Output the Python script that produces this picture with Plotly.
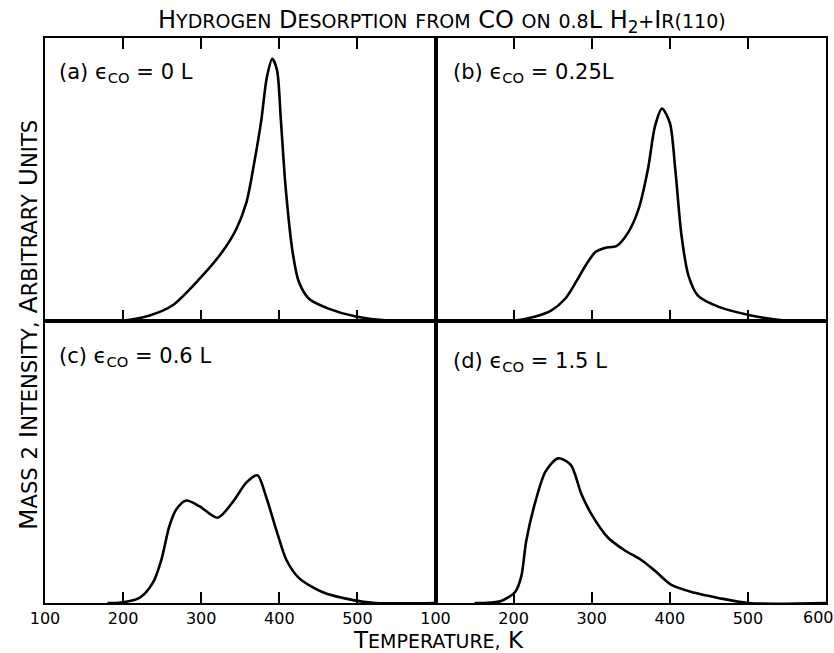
import plotly.graph_objects as go
from plotly.subplots import make_subplots

# ---------------- data ----------------
temp_a = [150, 200, 234, 263, 298, 327, 345, 358, 368, 377, 384, 391, 397, 402, 408, 417, 425, 438, 463, 498, 540, 600]
int_a = [0.0, 0.0, 0.018, 0.053, 0.148, 0.243, 0.324, 0.419, 0.56, 0.71, 0.86, 0.926, 0.887, 0.71, 0.475, 0.243, 0.137, 0.077, 0.042, 0.014, 0.0, 0.0]

temp_b = [150, 202, 228, 248, 266, 280, 292, 305, 317, 332, 347, 360, 372, 381, 390, 400, 407, 415, 424, 436, 462, 504, 547, 600]
int_b = [0.0, 0.0, 0.014, 0.035, 0.077, 0.137, 0.194, 0.243, 0.257, 0.264, 0.313, 0.394, 0.535, 0.687, 0.75, 0.70, 0.535, 0.30, 0.158, 0.088, 0.049, 0.018, 0.0, 0.0]

temp_c = [180, 192, 221, 238, 249, 259, 268, 281, 298, 321, 340, 358, 372, 383, 396, 409, 425, 455, 493, 523, 600]
int_c = [0.0, 0.0, 0.018, 0.071, 0.153, 0.27, 0.331, 0.363, 0.342, 0.302, 0.356, 0.427, 0.452, 0.377, 0.26, 0.153, 0.089, 0.039, 0.011, 0.0, 0.0]

temp_d = [150, 164, 184, 202, 210, 216, 228, 241, 257, 273, 287, 300, 321, 343, 363, 381, 402, 432, 462, 500, 600]
int_d = [0.0, 0.0, 0.007, 0.039, 0.096, 0.217, 0.36, 0.466, 0.512, 0.49, 0.384, 0.313, 0.231, 0.185, 0.153, 0.114, 0.064, 0.036, 0.018, 0.0, 0.0]

tick_vals = [100, 200, 300, 400, 500, 600]
tick_text_left = ["100", "200", "300", "400", "500", ""]
tick_text_right = ["100", "200", "300", "400", "500", ""]
last_tick_label = "600"

panel_labels = ["(a) ϵ<sub>CO</sub> = 0 L", "(b) ϵ<sub>CO</sub> = 0.25L",
                "(c) ϵ<sub>CO</sub> = 0.6 L", "(d) ϵ<sub>CO</sub> = 1.5 L"]

title_parts = ["Hydrogen Desorption from CO on 0.8L H", "2", "+Ir(110)"]
xlabel_text = "Temperature, K"
ylabel_text = "Mass 2 Intensity, Arbitrary Units"


def small_caps(text, small):
    """Uppercase letters stay full size, everything else is drawn as smaller capitals."""
    out, buf = [], []
    for ch in text:
        if ch.isupper() or ch == " ":
            if buf:
                out.append('<span style="font-size:%dpx">%s</span>' % (small, "".join(buf).upper()))
                buf = []
            out.append(ch)
        else:
            buf.append(ch)
    if buf:
        out.append('<span style="font-size:%dpx">%s</span>' % (small, "".join(buf).upper()))
    return "".join(out)


# ---------------- figure ----------------
W, H = 834, 653
ML, MR, MT, MB = 45, 6, 38, 50
fig = make_subplots(rows=2, cols=2, horizontal_spacing=0, vertical_spacing=0)

series = [(temp_a, int_a, 1, 1), (temp_b, int_b, 1, 2), (temp_c, int_c, 2, 1), (temp_d, int_d, 2, 2)]
for t, v, r, c in series:
    fig.add_trace(go.Scatter(x=t, y=v, mode="lines",
                             line=dict(color="black", width=2.6, shape="spline", smoothing=0.8),
                             showlegend=False, hoverinfo="skip"), row=r, col=c)

FONT = "DejaVu Sans"
for r in (1, 2):
    for c in (1, 2):
        fig.update_xaxes(row=r, col=c, range=[100, 600], showgrid=False, zeroline=False,
                         showline=True, linecolor="black", linewidth=1.6,
                         mirror="ticks" if r == 1 else True,
                         ticks="inside", ticklen=11, tickwidth=1.5, tickcolor="black",
                         tickvals=tick_vals,
                         ticktext=(tick_text_left if c == 1 else tick_text_right),
                         showticklabels=(r == 2),
                         tickfont=dict(family=FONT, size=16, color="black"))
        fig.update_yaxes(row=r, col=c, range=[0, 1], showgrid=False, zeroline=False,
                         showline=True, linecolor="black", linewidth=1.6, mirror=True,
                         ticks="", showticklabels=False)


def px2paper(px, py):
    return (px - ML) / (W - ML - MR), (H - MB - py) / (H - MT - MB)


annos = []
label_pos = [(57, 73), (452, 73), (57, 357), (452, 362)]
for txt, (px, py) in zip(panel_labels, label_pos):
    x, y = px2paper(px, py)
    annos.append(dict(text=txt, x=x, y=y, xref="paper", yref="paper", xanchor="left",
                      yanchor="middle", showarrow=False,
                      font=dict(family=FONT, size=21, color="black")))

# right-most tick label, kept inside the page
x, y = px2paper(820, 617)
annos.append(dict(text=last_tick_label, x=x, y=y, xref="paper", yref="paper", xanchor="center",
                  yanchor="middle", showarrow=False,
                  font=dict(family=FONT, size=16, color="black")))

title_html = (small_caps(title_parts[0], 19) + "<sub>" + title_parts[1] + "</sub>"
              + small_caps(title_parts[2], 19))
x, y = px2paper(443, 21)
annos.append(dict(text=title_html, x=x, y=y, xref="paper", yref="paper", xanchor="center",
                  yanchor="middle", showarrow=False,
                  font=dict(family=FONT, size=24, color="black")))
x, y = px2paper(440, 640)
annos.append(dict(text=small_caps(xlabel_text, 19), x=x, y=y, xref="paper", yref="paper",
                  xanchor="center", yanchor="middle", showarrow=False,
                  font=dict(family=FONT, size=23, color="black")))
x, y = px2paper(28, 325)
annos.append(dict(text=small_caps(ylabel_text, 21), x=x, y=y, xref="paper", yref="paper",
                  xanchor="center", yanchor="middle", showarrow=False, textangle=-90,
                  font=dict(family=FONT, size=25, color="black")))

fig.update_layout(width=W, height=H, margin=dict(l=ML, r=MR, t=MT, b=MB),
                  paper_bgcolor="white", plot_bgcolor="white", annotations=annos)

fig.write_html("out.html", config={"displayModeBar": False},
               post_script="document.body.style.margin='0';")
